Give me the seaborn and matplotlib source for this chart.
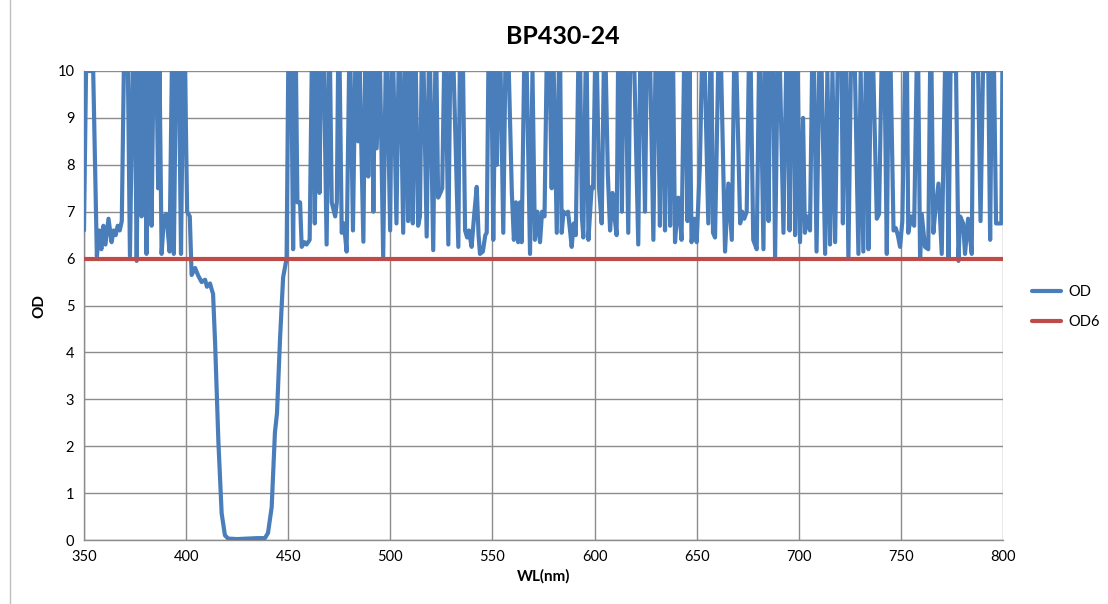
import matplotlib
matplotlib.use("Agg")
import matplotlib.pyplot as plt
import seaborn as sns
import pandas as pd
from matplotlib.lines import Line2D

# Measured optical density of the BP430-24 band-pass filter
wavelength = [
    350, 351, 353.5, 354.5, 356.3, 357.5, 358.5, 359.5, 360.5, 362, 363.5, 364.5, 365.5, 366.5, 367.5, 368.5,
    369.5, 371.5, 372.5, 373.8, 374.8, 375.8, 376.8, 377.6, 378.2, 378.8, 379.6, 380.6, 381.4, 382.2, 383.1,
    384, 385.5, 386.3, 387, 388, 389.2, 390.3, 391.9, 393, 394, 395, 396.5, 397.5, 398.5, 399.5, 400.5, 401.8,
    402.7, 404.4, 406, 407.6, 409.3, 410.2, 411.7, 412.8, 413.2, 414.2, 415.8, 417.4, 419, 420.6, 425, 430,
    435, 438.6, 440.1, 441.9, 443.5, 444.5, 446, 447.5, 449.2,
    450, 451.5, 452.4, 453.2, 453.8, 454.5, 455.8, 456.6, 458, 459, 460.5, 461.5, 462.3, 463, 464, 464.6, 465.3,
    466, 467.5, 468.8, 469.8, 470.5, 471.3, 473, 473.8, 474.4, 475.2, 476.2, 477.3, 478.6, 479.8, 480.5, 481.7,
    482.8, 483.5, 484.2, 485, 486.8, 487.6, 488.4, 489.2, 490, 491, 491.7, 492.4, 493.3, 494.5, 495, 496.5,
    497.7, 498.5, 499.9, 500.7, 501.5, 503, 504, 505, 506.3, 507.2, 507.8, 508.7, 509.6, 510.2, 511, 511.8,
    512.5, 513.6, 514.5, 515.3, 516.3, 517.8, 518.8, 519.5, 521, 522, 522.6, 523.4, 524.5, 525.4, 526.3, 527.2,
    528.4, 529.3, 531, 533.3, 534, 535.6, 536.6, 537.6, 538.5, 539.8, 541, 542.3, 543.2, 543.9, 545.3, 546.5,
    547.2, 548, 549.5, 550.4, 551.4, 552.2, 552.8, 554, 555.3, 556.3, 558, 559.5, 560.5, 561.5, 562.6, 563.5,
    564.3, 565.5, 566.8, 568.4, 569.6, 570.8, 572, 573.3, 574.3, 575.5, 576.5, 578, 579, 580, 581.5, 582.5,
    583.2, 583.9, 584.8, 586, 587, 588, 588.8, 589.8, 590.8, 592, 593, 593.8, 594.5, 595.6, 596.2, 597, 598.6,
    599.3, 600.2, 601.2, 602.2, 603.5, 604.5, 605.5, 606.5, 607.6, 608.8, 609.5, 610.8, 611.5, 612.5, 613.4,
    614, 615.3, 616.5, 617.4, 619.5, 621.4, 622.3, 623.5, 624.7, 625.5, 627.3, 628.8, 629.8, 631, 632, 632.8,
    633.6, 634.5, 635.3, 636.2, 637, 637.8, 638.5, 639.4, 641, 642.6, 643.8, 644.6, 645.5, 646.5, 647.5, 648.8,
    650, 651.6, 652.5, 654, 655.7, 656.6, 657.3, 658, 659, 660.5, 662, 663.9, 665.5, 667.2, 668.3, 669.5,
    671.3, 672.3, 673.3, 674.5, 675.5, 676.5, 677.7, 679.4, 680.5, 681.3, 682.7, 683.5, 684.5, 685.2, 686,
    687.5, 688.4, 689.6, 690.8, 692.5, 693.8, 694.6, 695.5, 696.3, 697.5, 698.2, 699.5, 700.6, 702.1, 703,
    704, 705.5, 706.5, 707.5, 708.7, 710, 711.2, 712.9, 714, 715.3, 716.5, 717.8, 719, 721, 721.6, 722.5,
    723.2, 724.3, 725.5, 727.5, 729.2, 730.3, 731.6, 732.8, 733.4, 734.1, 735.3, 736.5, 738.2, 739.3, 740.5,
    742, 743.1, 744, 745, 746.4, 747.5, 748.5, 749.6, 750.7, 752, 753, 753.6, 755, 756.5, 757.7, 758.5, 759.4,
    760.2, 761.8, 763.4, 764.3, 765, 765.9, 766.8, 768.4, 770, 771.6, 772.3, 773.3, 774.3, 777, 778.2, 779,
    780.5, 781.4, 782.9, 784.7, 785.4, 787.8, 789, 790.2, 792.8, 793.7, 794.5, 795.6, 796.6, 799.2, 799.7, 800,
]
od = [
    6.6, 10, 10, 10, 6.05, 6.6, 6.2, 6.7, 6.3, 6.85, 6.35, 6.6, 6.5, 6.7, 6.6, 6.8,
    10, 10, 6.05, 10, 10, 5.95, 10, 10, 6.9, 10, 10, 6.1, 10, 10, 6.7,
    10, 10, 7.5, 10, 6.1, 6.9, 6.95, 6.15, 10, 6.1, 10, 10, 6.1, 10, 10, 7.0, 6.9,
    5.65, 5.8, 5.63, 5.5, 5.55, 5.4, 5.47, 5.3, 5.25, 4.2, 2.1, 0.57, 0.1, 0.03, 0.02, 0.03,
    0.04, 0.04, 0.15, 0.7, 2.3, 2.7, 4.3, 5.6, 6.0,
    10, 10, 6.2, 10, 10, 7.2, 7.2, 6.25, 6.35, 6.3, 6.4, 10, 10, 6.75, 10, 10, 7.4,
    10, 10, 6.3, 10, 10, 7.2, 6.9, 7.2, 10, 10, 6.55, 6.75, 6.15, 10, 10, 6.6,
    10, 10, 8.5, 10, 6.36, 10, 10, 7.75, 10, 10, 7.0, 10, 8.35, 10, 10, 6.04,
    10, 10, 6.6, 10, 10, 6.75, 10, 10, 6.55, 10, 10, 6.8, 10, 10, 6.75, 10,
    10, 6.7, 6.9, 10, 10, 6.47, 10, 10, 6.18, 10, 10, 7.3, 7.4, 7.5, 10, 10,
    6.3, 10, 10, 6.25, 10, 10, 6.6, 6.45, 6.6, 6.25, 6.9, 7.53, 6.5, 6.1, 6.15, 6.5,
    6.55, 10, 10, 6.4, 10, 8.0, 10, 10, 6.55, 10, 10, 7.4, 6.4, 7.2, 6.35, 7.2,
    6.35, 10, 10, 6.1, 10, 6.4, 7.0, 6.35, 7.0, 6.9, 10, 10, 7.5, 10, 6.55, 10,
    10, 6.55, 7.0, 6.95, 7.0, 6.6, 6.25, 6.75, 6.5, 10, 10, 6.9, 6.45, 10, 10, 6.4, 7.53,
    7.5, 10, 10, 7.5, 6.75, 10, 10, 7.8, 6.6, 7.4, 7.0, 6.5, 10, 10, 7.0,
    10, 10, 6.55, 10, 10, 6.3, 10, 10, 7.0, 10, 10, 6.4, 10, 10, 6.7, 10,
    10, 6.6, 10, 10, 6.7, 10, 10, 6.35, 7.3, 6.4, 10, 10, 6.8, 10, 6.35, 6.85,
    6.35, 8.03, 10, 10, 6.75, 10, 10, 6.55, 6.45, 10, 10, 6.15, 7.6, 6.4, 10, 10,
    6.75, 7.0, 6.85, 7.0, 10, 10, 6.4, 6.2, 10, 10, 6.2, 10, 10, 6.8, 10,
    10, 6.04, 10, 10, 6.55, 10, 10, 6.6, 10, 10, 6.5, 10, 6.35, 9.0, 6.55,
    6.9, 6.6, 10, 10, 6.15, 10, 10, 6.1, 10, 6.3, 10, 6.35, 10, 10, 6.75, 10,
    10, 6.0, 10, 10, 6.1, 10, 6.15, 10, 10, 6.2, 10, 10, 6.85, 6.95, 10,
    10, 6.1, 10, 10, 6.6, 6.65, 6.5, 6.25, 6.8, 10, 10, 6.55, 6.9, 6.7, 10, 10, 6.0,
    6.95, 6.25, 6.2, 10, 10, 6.55, 7.0, 7.6, 6.1, 10, 10, 6.0, 10, 10, 5.95, 6.9,
    6.75, 6.1, 6.85, 6.1, 10, 10, 6.8, 10, 10, 6.4, 10, 10, 6.75, 6.75, 10, 10,
]

# OD6 reference level
od6_wavelength = [350, 800]
od6_level = [6, 6]

x_ticks = [350, 400, 450, 500, 550, 600, 650, 700, 750, 800]
y_ticks = list(range(0, 11))

od_df = pd.DataFrame({"WL": wavelength, "OD": od})
od6_df = pd.DataFrame({"WL": od6_wavelength, "OD": od6_level})

sns.set_theme(style="white")
plt.rcParams["font.family"] = ["Lato", "DejaVu Sans"]
plt.rcParams["text.color"] = "black"
plt.rcParams["axes.labelcolor"] = "black"

blue = "#4A7EBB"
red = "#BE4B48"
grid_gray = "#8C8C8C"

fig = plt.figure(figsize=(11.08, 6.04), dpi=100)
ax = fig.add_axes([84 / 1108, 1 - 540 / 604, (1003 - 84) / 1108, (540 - 71) / 604])

sns.lineplot(data=od_df, x="WL", y="OD", ax=ax, color=blue, linewidth=3.0,
             sort=False, estimator=None, label="OD", zorder=3,
             solid_joinstyle="round", solid_capstyle="round")
sns.lineplot(data=od6_df, x="WL", y="OD", ax=ax, color=red, linewidth=3.0,
             sort=False, estimator=None, label="OD6", zorder=4)

ax.set_xlim(350, 800)
ax.set_ylim(0, 10)
ax.set_xticks(x_ticks)
ax.set_yticks(y_ticks)
ax.grid(True, color=grid_gray, linewidth=1.0)
ax.set_axisbelow(True)
for side in ("top", "right"):
    ax.spines[side].set_visible(False)
for side in ("left", "bottom"):
    ax.spines[side].set_color(grid_gray)
    ax.spines[side].set_linewidth(1.0)
ax.tick_params(axis="both", direction="out", length=4, width=1, color=grid_gray,
               labelsize=10.5, labelcolor="black", pad=3)

ax.set_xlabel("WL(nm)", fontsize=11, fontweight="bold", labelpad=4, color="black")
ax.set_ylabel("OD", fontsize=11, fontweight="bold", labelpad=8, color="black")
fig.text(563 / 1108, 1 - 37 / 604, "BP430-24", ha="center", va="center",
         fontsize=18, fontweight="bold", color="black")

leg = ax.legend(loc="center left", bbox_to_anchor=(1.017, 0.497), frameon=False,
                fontsize=10.5, handlelength=2.0, handletextpad=0.5, labelspacing=1.1)
for txt in leg.get_texts():
    txt.set_color("black")

# chart-area border on the left
fig.add_artist(Line2D([10 / 1108, 10 / 1108], [0, 1], color="#BFBFBF", linewidth=1.0))

fig.savefig("out.png", dpi=100, facecolor="white")
